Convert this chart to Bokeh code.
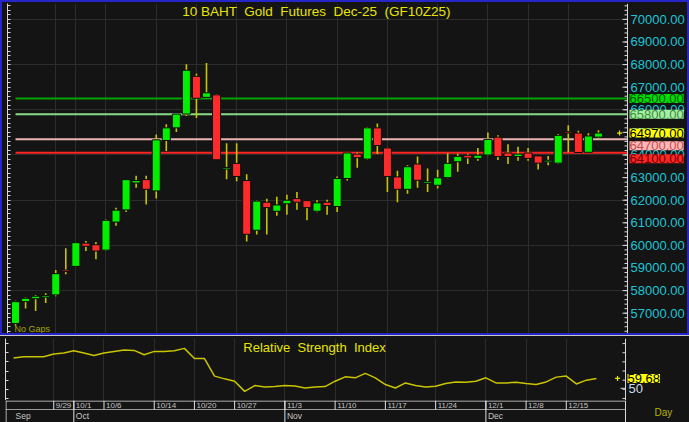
import numpy as np
from bokeh.plotting import figure
from bokeh.models import (Range1d, LinearAxis, FixedTicker, Label, NumeralTickFormatter,
                          BoxAnnotation, Span)
from bokeh.core.properties import value
from bokeh.layouts import column
from bokeh.embed import file_html
from bokeh.resources import INLINE

# ---------------- data ----------------
dates = ["9/23", "9/24", "9/25", "9/26",
         "9/29", "9/30", "10/1", "10/2", "10/3",
         "10/6", "10/7", "10/8", "10/9", "10/10",
         "10/14", "10/15", "10/16", "10/17",
         "10/20", "10/21", "10/22", "10/24",
         "10/27", "10/28", "10/29", "10/30", "10/31",
         "11/3", "11/4", "11/5", "11/6", "11/7",
         "11/10", "11/11", "11/12", "11/13", "11/14",
         "11/17", "11/18", "11/19", "11/20", "11/21",
         "11/24", "11/25", "11/26", "11/27", "11/28",
         "12/1", "12/2", "12/3", "12/4",
         "12/8", "12/9", "12/11", "12/12",
         "12/15", "12/16", "12/17", "12/18"]

opens = [56540, 57510, 57640, 57730, 57810, 58910, 59070, 60100, 60030,
         59790, 61030, 61570, 62760, 62910, 62410, 64640, 65200, 65810,
         67480, 66550, 66660, 63400, 63630, 62870, 60670, 61910, 61510,
         61840, 62070, 61980, 61510, 61910, 61720, 62960, 64040, 63820,
         65200, 64310, 63030, 62480, 63600, 62770, 62660, 63000, 63700,
         63990, 63850, 64000, 64790, 64090, 63930, 64090, 63960, 63720,
         63640, 65030, 64970, 64120, 64790]
highs = [57550, 57700, 57810, 57880, 58910, 59870, 60140, 60190, 60150,
         61150, 61670, 62910, 63080, 63080, 64910, 65360, 65810, 68020,
         67600, 68070, 66700, 64520, 64520, 63150, 61990, 62060, 62150,
         62240, 62360, 61990, 62000, 62020, 63050, 64110, 64110, 65240,
         65390, 64330, 63300, 63550, 63930, 63400, 63350, 64080, 64060,
         64060, 64310, 65000, 64870, 64480, 64360, 64310, 63960, 63960,
         64930, 65320, 65070, 64960, 65090]
lows = [56450, 57210, 57100, 57450, 57750, 58720, 59050, 59750, 59390,
        59750, 60870, 61480, 62550, 61810, 62070, 64180, 65020, 65720,
        65640, 66510, 63780, 62930, 62840, 60170, 60480, 60480, 61310,
        61360, 61580, 61110, 61470, 61360, 61480, 62870, 63440, 63790,
        64040, 62360, 61910, 62290, 62550, 62360, 62520, 62970, 63260,
        63600, 63750, 63970, 63780, 63600, 63750, 63750, 63360, 63550,
        63600, 64120, 64100, 64110, 64720]
closes = [57510, 57660, 57750, 57760, 58750, 58840, 60120, 59960, 59750,
          61110, 61560, 62910, 62870, 62480, 64670, 65200, 65810, 67750,
          66510, 66750, 63790, 63430, 63050, 60490, 61960, 61670, 61790,
          62000, 61910, 61670, 61880, 61760, 62960, 64090, 63880, 65200,
          64420, 63050, 62480, 63480, 62880, 62790, 62990, 63630, 63940,
          63870, 63990, 64690, 63930, 63930, 64040, 63850, 63640, 63740,
          64870, 64970, 64110, 64840, 64970]

rsi = [79.7, 81.0, 81.0, 81.0, 83.7, 84.7, 87.0, 84.7, 82.3,
       84.7, 86.3, 87.7, 87.3, 83.0, 86.3, 86.3, 87.0, 89.3,
       79.3, 79.3, 62.0, 59.3, 57.0, 47.0, 52.7, 51.3, 51.7,
       52.7, 52.3, 50.3, 51.3, 51.7, 57.0, 61.3, 60.3, 64.7,
       60.3, 53.7, 50.3, 55.3, 52.7, 51.3, 52.0, 54.7, 56.3,
       56.0, 57.0, 60.3, 55.3, 55.3, 56.0, 54.7, 53.7, 56.3,
       61.0, 62.0, 54.3, 58.0, 59.68]

tick_dates = ["9/29", "10/1", "10/6", "10/14", "10/20", "10/27", "11/3",
              "11/10", "11/17", "11/24", "12/1", "12/8", "12/15"]
month_names = ["Sep", "Oct", "Nov", "Dec"]
month_first = ["9/23", "10/1", "11/3", "12/1"]

price_ticks = list(range(57000, 70001, 1000))
price_minor = list(range(55800, 70800, 200))
price_grid = list(range(58000, 70001, 2000))
rsi_ticks = [50]
rsi_minor = list(range(40, 100, 9))
levels = [66500, 65800, 64970, 64700, 64100]
level_line = ["#00a400", "#88dc88", None, "#eab4b4", "#ff2424"]
level_bg = ["#00e000", "#a6f0a6", "#ffff00", "#ffb8b8", "#ff2626"]
level_fg = ["#005000", "#3c8c3c", "#000000", "#c05050", "#700000"]

title_text = "10 BAHT  Gold  Futures  Dec-25  (GF10Z25)"
rsi_title = "Relative  Strength  Index"

# ---------------- style / layout ----------------
BG = "#141414"
GRID = "#2c2c2c"
WICK = "#c8c400"
UP = "#00f000"
DN = "#ff2a2a"
YEL = "#e6e600"
AXC = "#d8d8d8"
FONT = "Liberation Sans"
PXU = 10.05          # pixels per trading day
PLOT_W = 620         # candle area width (px)
FRAME_W = 682        # frame width incl. right label column (px)


def keep_spaces(s):
    return s.replace("  ", " \u00a0")


idx = np.arange(len(dates))
o = np.array(opens, float)
h = np.array(highs, float)
lo = np.array(lows, float)
c = np.array(closes, float)
tick_idx = [dates.index(d) for d in tick_dates]
month_idx = [dates.index(d) for d in month_first]

x0 = -0.8
xr = Range1d(x0, x0 + FRAME_W / PXU)
XE = x0 + PLOT_W / PXU          # right edge of the candle area (axis line)
PY0, PY1 = 55969, 70703
MAIN_FRAME_H = 329


def right_axis(fig, ticks, minor, fmt=None, overrides=None, color="#1cc4d4"):
    a = LinearAxis(ticker=FixedTicker(ticks=ticks, minor_ticks=[]),
                   major_label_text_color=color, major_label_text_font=FONT,
                   major_label_text_font_size="13px", axis_line_color=None,
                   major_tick_line_color=None, minor_tick_line_color=None,
                   major_tick_in=0, major_tick_out=0, minor_tick_in=0, minor_tick_out=0,
                   major_label_standoff=-(FRAME_W - PLOT_W) + 3)
    if fmt is not None:
        a.formatter = fmt
    if overrides is not None:
        a.major_label_overrides = overrides
    fig.add_layout(a, "right")
    fig.add_layout(Span(location=XE, dimension="height", line_color=AXC, line_width=1))
    fig.segment(x0=[XE - 3 / PXU] * len(minor), y0=minor, x1=[XE] * len(minor), y1=minor,
                line_color=AXC, line_width=1)
    fig.segment(x0=[XE - 5 / PXU] * len(ticks), y0=ticks, x1=[XE] * len(ticks), y1=ticks,
                line_color=AXC, line_width=1)


def left_axis(fig, minor):
    fig.add_layout(LinearAxis(ticker=FixedTicker(ticks=[], minor_ticks=minor),
                              axis_line_color=AXC, minor_tick_line_color=AXC,
                              minor_tick_in=3, minor_tick_out=0,
                              major_tick_in=0, major_tick_out=0), "left")


def side_label(fig, y, text, bg, fg, yoff=0):
    fig.add_layout(Label(x=XE, y=y, x_offset=2, y_offset=yoff, text=text,
                         text_baseline="middle", text_align="left",
                         text_font=FONT, text_font_size="13px", text_color=fg,
                         background_fill_color=bg, padding=0, level="overlay"))


# ---------------- main price panel ----------------
p = figure(width=FRAME_W + 3, height=MAIN_FRAME_H + 2, x_range=xr, y_range=Range1d(PY0, PY1),
           x_axis_location=None, y_axis_location=None,
           output_backend="svg", toolbar_location=None,
           min_border_left=3, min_border_right=0, min_border_top=1, min_border_bottom=1,
           background_fill_color=BG, border_fill_color=BG, outline_line_color=None)
p.styles = {"border": "2px solid #2626c8", "box-sizing": "content-box"}

p.xgrid.ticker = FixedTicker(ticks=tick_idx)
p.xgrid.grid_line_color = GRID
p.ygrid.ticker = FixedTicker(ticks=price_grid)
p.ygrid.grid_line_color = GRID
p.add_layout(BoxAnnotation(left=XE, fill_color=BG, fill_alpha=1, line_color=None, level="underlay"))

left_axis(p, price_minor)
right_axis(p, price_ticks, price_minor, fmt=NumeralTickFormatter(format="0.00"))

for lv, col in zip(levels, level_line):
    if col is not None:
        p.segment(x0=[0], y0=[lv], x1=[XE], y1=[lv], line_color=col, line_width=2)

body_top = np.maximum(o, c)
body_bot = np.minimum(o, c)
mid = (body_top + body_bot) / 2
thin = (body_top - body_bot) < 60
body_top = np.where(thin, mid + 35, body_top)
body_bot = np.where(thin, mid - 35, body_bot)
cols = [UP if cc >= oo else DN for oo, cc in zip(o, c)]
p.segment(x0=idx, y0=lo, x1=idx, y1=h, line_color=WICK, line_width=1.6)
p.vbar(x=idx, top=body_top, bottom=body_bot, width=0.8, fill_color=cols,
       line_color="#0c0c0c", line_width=1)
p.scatter(x=[idx[-1] + 2.1], y=[c[-1]], marker="cross", size=5, line_color=YEL, line_width=1.2)

ppu = MAIN_FRAME_H / (PY1 - PY0)
prev = None
for lv, bg, fg in zip(levels, level_bg, level_fg):
    nat = (PY1 - lv) * ppu
    pos = nat if prev is None else max(nat, prev + 12.7)
    prev = pos
    side_label(p, lv, f"{lv:.2f}", bg, fg, yoff=-(pos - nat))

p.add_layout(Label(x=x0 + (314 - 5) / PXU, y=PY1, y_offset=-8, text=keep_spaces(title_text),
                   text_align="center", text_baseline="middle", text_font=FONT,
                   text_font_size="13.5px", text_color=YEL))
p.add_layout(Label(x=-0.1, y=PY0, y_offset=3, text="No Gaps", text_align="left",
                   text_baseline="bottom", text_font=FONT, text_font_size="9px",
                   text_color="#a8a400"))

# ---------------- RSI panel ----------------
p2 = figure(width=689, height=64, x_range=xr, y_range=Range1d(38, 99),
            x_axis_location=None, y_axis_location=None,
            output_backend="svg", toolbar_location=None,
            min_border_left=5, min_border_right=2, min_border_top=2, min_border_bottom=1,
            background_fill_color=BG, border_fill_color=BG, outline_line_color=None)
p2.styles = {"border-top": "1px solid #c8c8c8", "box-sizing": "content-box"}
p2.xgrid.ticker = FixedTicker(ticks=tick_idx)
p2.xgrid.grid_line_color = GRID
p2.ygrid.grid_line_color = None

left_axis(p2, rsi_minor)
right_axis(p2, rsi_ticks, rsi_minor, color="#d0dcec")

p2.line(idx, rsi, line_color=WICK, line_width=1.5)
p2.scatter(x=[idx[-1] + 2.1], y=[rsi[-1]], marker="cross", size=5, line_color=YEL, line_width=1.2)
side_label(p2, rsi[-1], f"{rsi[-1]:.2f}", "#ffff00", "#000000")
p2.add_layout(Label(x=x0 + (314 - 5) / PXU, y=90, text=keep_spaces(rsi_title),
                    text_align="center", text_baseline="middle", text_font=FONT,
                    text_font_size="13px", text_color=YEL))

# ---------------- date rows ----------------
p3 = figure(width=689, height=22, x_range=xr, y_range=Range1d(0, 22),
            x_axis_location=None, y_axis_location=None,
            output_backend="svg", toolbar_location=None,
            min_border_left=5, min_border_right=2, min_border_top=0, min_border_bottom=0,
            background_fill_color=BG, border_fill_color=BG, outline_line_color=None)
p3.xgrid.grid_line_color = None
p3.ygrid.grid_line_color = None
p3.segment(x0=[x0, x0], y0=[21.5, 13], x1=[XE, XE], y1=[21.5, 13],
           line_color=["#e0e0e0", "#9a9a9a"], line_width=1)
p3.segment(x0=[x0 + 0.05, XE], y0=[0, 0], x1=[x0 + 0.05, XE], y1=[22, 22],
           line_color=AXC, line_width=1)
p3.segment(x0=tick_idx, y0=[13] * len(tick_idx), x1=tick_idx, y1=[22] * len(tick_idx),
           line_color="#e0e0e0", line_width=1)
p3.segment(x0=month_idx[1:], y0=[0] * 3, x1=month_idx[1:], y1=[22] * 3,
           line_color="#e0e0e0", line_width=1)
p3.text(x=tick_idx, y=[17.3] * len(tick_idx), text=tick_dates, x_offset=2,
        text_baseline="middle", text_align="left", text_font=value(FONT),
        text_font_size="8px", text_color="#c4c4c4")
p3.text(x=month_idx, y=[6.5] * len(month_idx), text=month_names, x_offset=2,
        text_baseline="middle", text_align="left", text_font=value(FONT),
        text_font_size="8.5px", text_color="#c4c4c4")
p3.text(x=[x0 + (654 - 5) / PXU], y=[10.5], text=["Day"], text_baseline="middle",
        text_align="left", text_font=value(FONT), text_font_size="10px", text_color="#b8b400")

layout = column(p, p2, p3, spacing=0, styles={"background-color": BG})
open("out.html", "w").write(file_html(layout, INLINE))
